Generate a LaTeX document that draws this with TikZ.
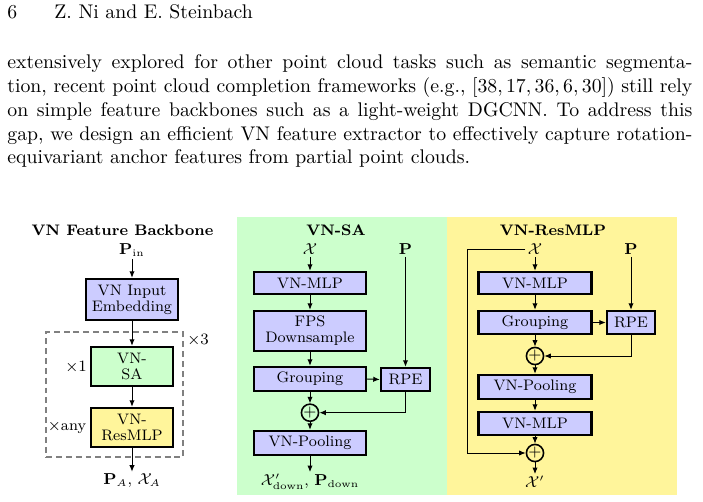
\documentclass[tikz,border=0pt]{standalone}
\usepackage{amsmath,amssymb}
\usetikzlibrary{arrows.meta}
\definecolor{pgreen}{RGB}{204,255,204}
\definecolor{pyellow}{RGB}{255,245,155}
\definecolor{pblue}{RGB}{204,204,255}
\newcommand\figfnt{\fontsize{7.7}{9.2}\selectfont}
\begin{document}
\begin{tikzpicture}[x=0.506pt,y=-0.506pt,
  bw/.style={minimum width=#1*0.506pt},
  bh/.style={minimum height=#1*0.506pt},
  blk/.style={draw=black, line width=1.2pt, fill=pblue, inner sep=0pt, align=center, font=\figfnt},
  lbl/.style={font=\figfnt, inner sep=1pt},
  ttl/.style={font=\figfnt\bfseries, inner sep=0pt},
  txt/.style={anchor=base west, inner sep=0pt, font=\normalsize},
  arr/.style={-{Latex[length=3.3pt,width=2.7pt]}, line width=0.5pt},
  plus/.style={circle, draw=black, line width=0.8pt, minimum size=14.6*0.506pt, inner sep=0pt, font=\figfnt},
  dashbox/.style={draw=gray, line width=1pt, dash pattern=on 3pt off 2pt, inner sep=0pt}
]
\useasboundingbox (0,0) rectangle (703,502);
% header and paragraph
\node[txt] (pg) at (7,19) {6};
\node[txt] (hd) at (54,19) {Z. Ni and E. Steinbach};
\node[txt] (l1) at (7,69) {\makebox[346.6pt][s]{extensively explored for other point cloud tasks such as semantic segmenta-}};
\node[txt] (l2) at (7,92.7) {\makebox[346.6pt][s]{tion, recent point cloud completion frameworks (e.g., $[38,17,36,6,30]$) still rely}};
\node[txt] (l3) at (7,116.4) {\makebox[346.6pt][s]{on simple feature backbones such as a light-weight DGCNN. To address this}};
\node[txt] (l4) at (7,140.1) {\makebox[346.6pt][s]{gap, we design an efficient VN feature extractor to effectively capture rotation-}};
\node[txt] (l5) at (7,163.8) {equivariant anchor features from partial point clouds.};

% panel backgrounds
\fill[pgreen] (237,217) rectangle (447,495);
\fill[pyellow] (447,217) rectangle (677,495);

% ---------- left: backbone ----------
\node[ttl] (t1) at (122.5,230) {VN Feature Backbone};
\node[lbl] (pin) at (132,250) {$\mathbf{P}_{\mathrm{in}}$};
\node[blk, bw=92, bh=41] (emb) at (132,299.5) {VN Input\\[-1pt]Embedding};
\node[dashbox, bw=137, bh=125] (rep) at (114.5,394.5) {};
\node[lbl] (x3) at (198,340) {$\times3$};
\node[blk, fill=pgreen, bw=82, bh=39] (sa) at (132,366.5) {VN-\\[-1pt]SA};
\node[lbl] (x1) at (76,367) {$\times1$};
\node[blk, fill=pyellow, bw=82, bh=39] (rm) at (132,427.5) {VN-\\[-1pt]ResMLP};
\node[lbl] (xany) at (67,427) {$\times$any};
\node[lbl] (pa) at (132,481) {$\mathbf{P}_A$, $\mathcal{X}_A$};
\draw[arr] (pin) -- (emb);
\draw[arr] (emb) -- (sa);
\draw[arr] (sa) -- (rm);
\draw[arr] (rm) -- (pa);

% ---------- middle: VN-SA ----------
\node[ttl] (t2) at (336,230) {VN-SA};
\node[lbl] (xa) at (310,249) {$\mathcal{X}$};
\node[lbl] (pa2) at (405.5,249) {$\mathbf{P}$};
\node[blk, bw=112, bh=22] (mlpa) at (310,283) {VN-MLP};
\node[blk, bw=112, bh=40] (fps) at (310,331) {FPS\\[-1pt]Downsample};
\node[blk, bw=112, bh=24] (grpa) at (310,379) {Grouping};
\node[blk, bw=49, bh=23] (rpea) at (405.5,379.5) {RPE};
\node[plus] (pla) at (310,412.7) {$+$};
\node[blk, bw=112, bh=24] (poola) at (310,443) {VN-Pooling};
\node[lbl] (outa) at (310,482) {$\mathcal{X}'_{\mathrm{down}}$, $\mathbf{P}_{\mathrm{down}}$};
\draw[arr] (xa) -- (mlpa);
\draw[arr] (mlpa) -- (fps);
\draw[arr] (fps) -- (grpa);
\draw[arr] (grpa) -- (pla);
\draw[arr] (pa2) -- (rpea);
\draw[arr] (grpa.east) -- (rpea.west);
\draw[arr] (rpea.south) |- (pla.east);
\draw[arr] (pla) -- (poola);
\draw[arr] (poola) -- (outa);

% ---------- right: VN-ResMLP ----------
\node[ttl] (t3) at (553,230) {VN-ResMLP};
\node[lbl] (xb) at (535,249) {$\mathcal{X}$};
\node[lbl] (pb) at (631,249) {$\mathbf{P}$};
\node[blk, bw=113, bh=22] (mlpb) at (535,283) {VN-MLP};
\node[blk, bw=113, bh=23] (grpb) at (535,322.5) {Grouping};
\node[blk, bw=48, bh=23] (rpeb) at (631,322.5) {RPE};
\node[plus] (plb) at (535,356) {$+$};
\node[blk, bw=113, bh=24] (poolb) at (535,387) {VN-Pooling};
\node[blk, bw=113, bh=23] (mlpc) at (535,423.5) {VN-MLP};
\node[plus] (plc) at (535,453) {$+$};
\node[lbl] (outb) at (535,482) {$\mathcal{X}'$};
\coordinate (sk) at (467,453);
\draw[arr] (xb) -- (mlpb);
\draw[arr] (mlpb) -- (grpb);
\draw[arr] (grpb) -- (plb);
\draw[arr] (pb) -- (rpeb);
\draw[arr] (grpb.east) -- (rpeb.west);
\draw[arr] (rpeb.south) |- (plb.east);
\draw[arr] (plb) -- (poolb);
\draw[arr] (poolb) -- (mlpc);
\draw[arr] (mlpc) -- (plc);
\draw[arr] (plc) -- (outb);
\draw[arr] (xb.west) -- (xb.west -| sk) -- (sk) -- (plc.west);
\end{tikzpicture}
\end{document}
